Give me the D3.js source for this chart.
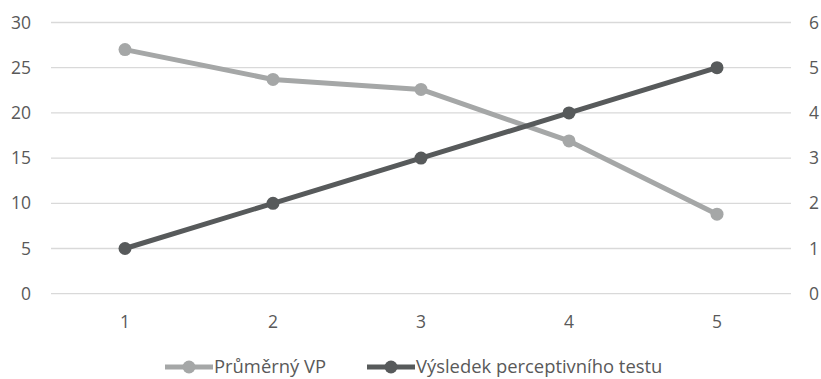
<!DOCTYPE html>
<html>
<head>
<meta charset="utf-8">
<script src="https://cdn.jsdelivr.net/npm/d3@7"></script>
<style>
  body { margin: 0; background: #fff; }
  text { font-family: "Open Sans", Lato, sans-serif; fill: #595959; }
</style>
</head>
<body>
<script>
// chart data
var categories = [1, 2, 3, 4, 5];
var prumernyVP = [27, 23.7, 22.6, 16.9, 8.8];
var vysledekTestu = [1, 2, 3, 4, 5];
var leftTicks = [0, 5, 10, 15, 20, 25, 30];
var rightTicks = [0, 1, 2, 3, 4, 5, 6];
var seriesNames = ["Průměrný VP", "Výsledek perceptivního testu"];

var w = 821;
var h = 379;
var plotLeft = 51, plotRight = 791, plotTop = 22.5, plotBottom = 293.7;
var lightGray = "#a5a7a7";
var darkGray = "#575a5b";
var fontSize = 17.5;

var svg = d3.select("body").append("svg")
  .attr("width", w)
  .attr("height", h);

var x = d3.scaleBand().domain(categories).range([plotLeft, plotRight]);
var yL = d3.scaleLinear().domain([0, 30]).range([plotBottom, plotTop]);
var yR = d3.scaleLinear().domain([0, 6]).range([plotBottom, plotTop]);

// gridlines
svg.append("g").selectAll("line")
  .data(leftTicks)
  .enter().append("line")
  .attr("x1", plotLeft).attr("x2", plotRight)
  .attr("y1", function(d) { return yL(d); })
  .attr("y2", function(d) { return yL(d); })
  .attr("stroke", "#d9d9d9")
  .attr("stroke-width", 1.3);

// left axis labels
svg.append("g").selectAll("text")
  .data(leftTicks)
  .enter().append("text")
  .attr("x", 31)
  .attr("y", function(d) { return yL(d); })
  .attr("dy", "0.35em")
  .attr("text-anchor", "end")
  .attr("font-size", fontSize)
  .text(function(d) { return d; });

// right axis labels
svg.append("g").selectAll("text")
  .data(rightTicks)
  .enter().append("text")
  .attr("x", 809)
  .attr("y", function(d) { return yR(d); })
  .attr("dy", "0.35em")
  .attr("text-anchor", "start")
  .attr("font-size", fontSize)
  .text(function(d) { return d; });

// x labels
svg.append("g").selectAll("text")
  .data(categories)
  .enter().append("text")
  .attr("x", function(d) { return x(d) + x.bandwidth() / 2; })
  .attr("y", 322)
  .attr("dy", "0.35em")
  .attr("text-anchor", "middle")
  .attr("font-size", fontSize)
  .text(function(d) { return d; });

function drawSeries(values, scale, color) {
  var pts = values.map(function(v, i) { return [categories[i], v]; });
  var line = d3.line()
    .x(function(d) { return x(d[0]) + x.bandwidth() / 2; })
    .y(function(d) { return scale(d[1]); });
  svg.append("path")
    .datum(pts)
    .attr("d", line)
    .attr("fill", "none")
    .attr("stroke", color)
    .attr("stroke-width", 5)
    .attr("stroke-linejoin", "round");
  svg.append("g").selectAll("circle")
    .data(pts)
    .enter().append("circle")
    .attr("cx", function(d) { return x(d[0]) + x.bandwidth() / 2; })
    .attr("cy", function(d) { return scale(d[1]); })
    .attr("r", 6.5)
    .attr("fill", color);
}

drawSeries(prumernyVP, yL, lightGray);
drawSeries(vysledekTestu, yR, darkGray);

// legend
var legend = [
  { name: seriesNames[0], color: lightGray, x: 165 },
  { name: seriesNames[1], color: darkGray, x: 367 }
];
var lg = svg.append("g").selectAll("g")
  .data(legend)
  .enter().append("g")
  .attr("transform", function(d) { return "translate(" + d.x + ",367)"; });
lg.append("line")
  .attr("x1", 0).attr("x2", 48)
  .attr("stroke", function(d) { return d.color; })
  .attr("stroke-width", 5);
lg.append("circle")
  .attr("cx", 24)
  .attr("r", 6.5)
  .attr("fill", function(d) { return d.color; });
lg.append("text")
  .attr("x", 49)
  .attr("dy", "0.35em")
  .attr("font-size", 18.4)
  .text(function(d) { return d.name; });
</script>
</body>
</html>
